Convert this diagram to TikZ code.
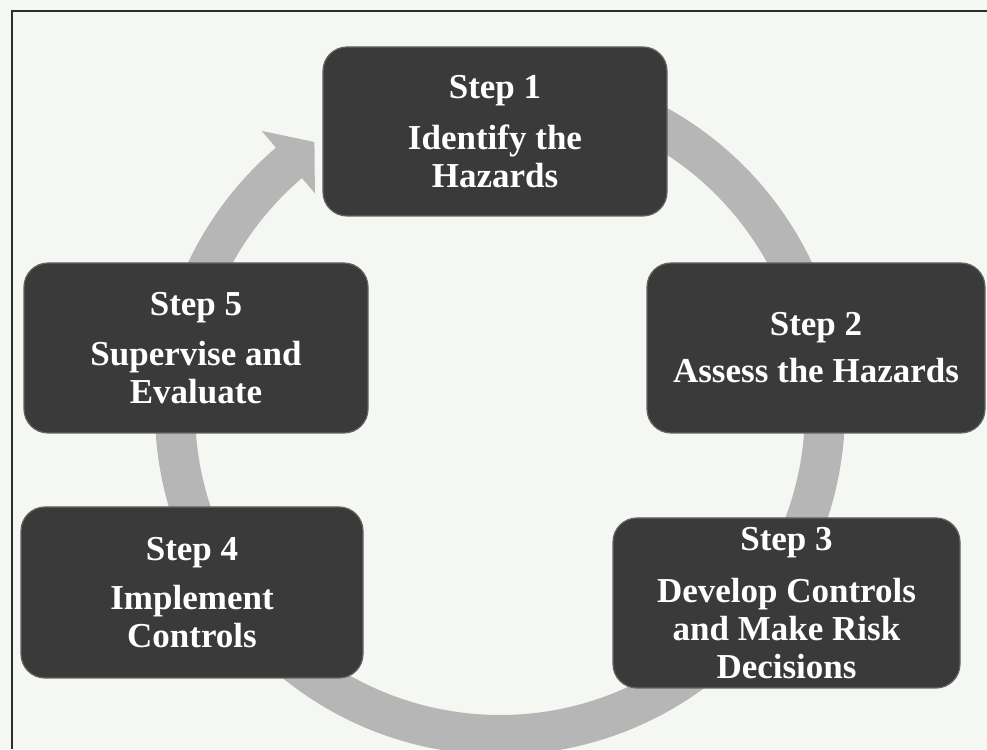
\documentclass[tikz,border=0pt]{standalone}
\usepackage{fontspec}
\setmainfont{Liberation Serif}
\usetikzlibrary{calc}
\definecolor{paper}{RGB}{245,247,243}
\definecolor{boxgray}{RGB}{58,58,58}
\definecolor{boxedge}{RGB}{100,100,100}
\definecolor{ringgray}{RGB}{182,182,182}
\definecolor{framecol}{RGB}{45,45,45}
\begin{document}
\begin{tikzpicture}[x=1pt,y=1pt,
  stepbox/.style={rectangle, rounded corners=24pt, fill=boxgray, draw=boxedge,
    line width=1.2pt, text=white, align=center, inner sep=0pt,
    font=\fontsize{35}{38}\selectfont\bfseries},
  ringfill/.style={fill=ringgray},
  framestyle/.style={draw=framecol, line width=1.5pt}]
\fill[paper] (0,0) rectangle (987,749);
\useasboundingbox (0,0) rectangle (987,749);
% frame
\coordinate (ftr) at (987,738);
\coordinate (ftl) at (12,738);
\coordinate (fbl) at (12,0);
\draw[framestyle] (ftr) -- (ftl) -- (fbl);
% circular arrow
\coordinate (c) at (500,339);
\fill[ringfill] ($(c)+(80:345)$) arc[start angle=80, end angle=-229.5, radius=345]
  -- ($(c)+(130.5:367)$) -- ($(c)+(124.7:326)$) -- ($(c)+(130.5:285)$)
  -- ($(c)+(130.5:305)$) arc[start angle=-229.5, end angle=80, radius=305] -- cycle;
% steps
\node[stepbox, minimum width=344, minimum height=169] (s1) at (495,617.5)
  {Step 1\\[13pt]Identify the\\Hazards};
\node[stepbox, minimum width=338, minimum height=170] (s2) at (816,401)
  {Step 2\\[9pt]Assess the Hazards};
\node[stepbox, minimum width=347, minimum height=170] (s3) at (786.5,146)
  {Step 3\\[14pt]Develop Controls\\and Make Risk\\Decisions};
\node[stepbox, minimum width=342, minimum height=171] (s4) at (192,156.5)
  {Step 4\\[11pt]Implement\\Controls};
\node[stepbox, minimum width=344, minimum height=170] (s5) at (196,401)
  {Step 5\\[12pt]Supervise and\\Evaluate};
\end{tikzpicture}
\end{document}
